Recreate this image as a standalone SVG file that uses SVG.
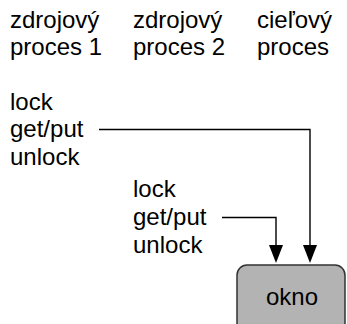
<svg xmlns="http://www.w3.org/2000/svg" width="347" height="324" viewBox="0 0 347 324">
  <defs>
    <style>
      text { font-family: "Liberation Sans", Arial, sans-serif; font-size: 24px; fill: #000; }
      .wire { fill: none; stroke: #000; stroke-width: 1.4; }
      .win { fill: #b3b3b3; stroke: #333; stroke-width: 1.5; }
    </style>
    <marker id="arrow" markerWidth="14" markerHeight="18" refX="7" refY="18" orient="auto-start-reverse" markerUnits="userSpaceOnUse" viewBox="0 0 14 18">
      <path d="M0,0 L14,0 L7,18 Z" fill="#000"/>
    </marker>
  </defs>

  <!-- process headers -->
  <g id="src1">
    <text x="10" y="28">zdrojový</text>
    <text x="10" y="55">proces 1</text>
  </g>
  <g id="src2">
    <text x="133" y="28">zdrojový</text>
    <text x="133" y="55">proces 2</text>
  </g>
  <g id="target">
    <text x="257" y="28">cieľový</text>
    <text x="257" y="55">proces</text>
  </g>

  <!-- operation sequences -->
  <g id="ops1">
    <text x="10" y="110">lock</text>
    <text x="10" y="137">get/put</text>
    <text x="10" y="165">unlock</text>
  </g>
  <g id="ops2">
    <text x="133" y="197">lock</text>
    <text x="133" y="225">get/put</text>
    <text x="133" y="253">unlock</text>
  </g>

  <!-- window -->
  <g id="okno">
    <rect class="win" x="237" y="265" width="108" height="72" rx="10" ry="10"/>
    <text x="292" y="305" text-anchor="middle">okno</text>
  </g>

  <!-- connectors -->
  <g id="connectors">
    <path class="wire" d="M99,129.5 H310 V245"/>
    <path class="wire" d="M222,217.5 H276 V245"/>
    <path d="M303,245 L317,245 L310,263 Z" fill="#000"/>
    <path d="M269,245 L283,245 L276,263 Z" fill="#000"/>
  </g>
</svg>
